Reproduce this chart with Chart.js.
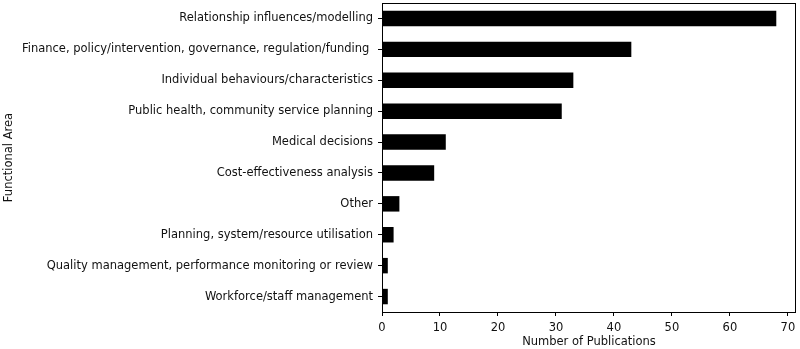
<!DOCTYPE html>
<html>
<head>
<meta charset="utf-8">
<script src="https://cdn.jsdelivr.net/npm/chart.js@4.4.1/dist/chart.umd.min.js"></script>
<style>
  html, body { margin: 0; padding: 0; background: #fff; }
  #wrap { width: 800px; height: 349px; }
</style>
</head>
<body>
<div id="wrap"><canvas id="chart" width="800" height="349"></canvas></div>
<script>
// categories, top to bottom
const areas = [
    "Relationship influences/modelling",
    "Finance, policy/intervention, governance, regulation/funding ",
    "Individual behaviours/characteristics",
    "Public health, community service planning",
    "Medical decisions",
    "Cost-effectiveness analysis",
    "Other",
    "Planning, system/resource utilisation",
    "Quality management, performance monitoring or review",
    "Workforce/staff management"
];
const publications = [68, 43, 33, 31, 11, 9, 3, 2, 1, 1];
const xTicks = [0, 10, 20, 30, 40, 50, 60, 70];

// draw the full box round the plot like matplotlib spines
const frameBox = {
    id: 'frameBox',
    afterDraw(chart) {
        const a = chart.chartArea;
        const ctx = chart.ctx;
        ctx.save();
        ctx.strokeStyle = '#000';
        ctx.lineWidth = 1;
        ctx.strokeRect(Math.round(a.left) + 0.5, Math.round(a.top) + 0.5,
            Math.round(a.right - a.left) - 1, Math.round(a.bottom - a.top));
        ctx.restore();
    }
};

const font = { family: 'DejaVu Sans', size: 11.5 };

new Chart(document.getElementById('chart').getContext('2d'), {
    type: 'bar',
    data: {
        labels: areas,
        datasets: [{
            data: publications,
            backgroundColor: '#000',
            borderWidth: 0,
            barPercentage: 0.5,
            categoryPercentage: 1.0
        }]
    },
    plugins: [frameBox],
    options: {
        indexAxis: 'y',
        responsive: false,
        animation: false,
        layout: { padding: { top: 3, right: 4, left: 0, bottom: 0 } },
        plugins: {
            legend: { display: false },
            tooltip: { enabled: false }
        },
        scales: {
            x: {
                min: 0,
                max: 71.4,
                afterBuildTicks: (scale) => {
                    scale.ticks = xTicks.map(v => ({ value: v }));
                },
                afterFit: (scale) => {
                    scale.height = 37;
                    scale.paddingLeft = 0;
                    scale.paddingRight = 0;
                },
                grid: {
                    display: true,
                    drawOnChartArea: false,
                    drawTicks: true,
                    tickLength: 4,
                    color: '#000'
                },
                border: { display: false },
                ticks: { color: '#111', font: font, padding: 5, maxRotation: 0 },
                title: {
                    display: true,
                    text: 'Number of Publications',
                    color: '#111',
                    font: font,
                    padding: { top: 0, bottom: 0 }
                }
            },
            y: {
                offset: true,
                afterFit: (scale) => {
                    scale.width = 382;
                    scale.paddingTop = 0;
                    scale.paddingBottom = 0;
                },
                grid: {
                    display: true,
                    drawOnChartArea: false,
                    drawTicks: true,
                    tickLength: 4,
                    offset: false,
                    color: '#000'
                },
                border: { display: false },
                ticks: { color: '#111', font: font, padding: 5, autoSkip: false },
                title: {
                    display: true,
                    text: 'Functional Area',
                    color: '#111',
                    font: font,
                    padding: { top: 2, bottom: 0 }
                }
            }
        }
    }
});
</script>
</body>
</html>
